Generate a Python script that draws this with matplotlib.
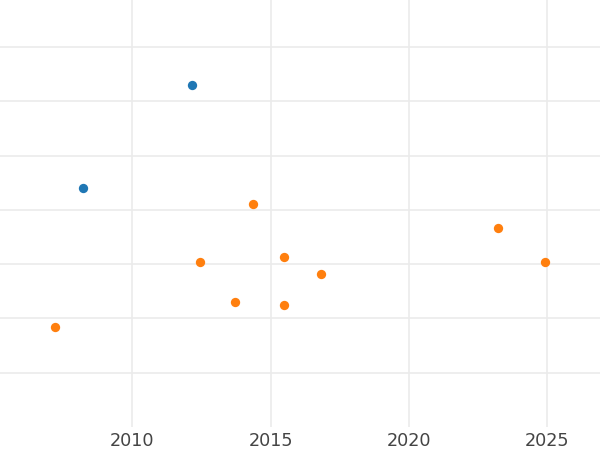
import matplotlib
matplotlib.use("Agg")
import matplotlib.pyplot as plt

# two groups of points, x = year, y = unlabelled value
blue_x = [2012.17, 2008.21]
blue_y = [6.30, 4.41]

orange_x = [2014.37, 2012.45, 2015.47, 2013.71, 2015.47, 2007.21, 2016.81, 2023.22, 2024.94]
orange_y = [4.11, 3.03, 3.135, 2.31, 2.24, 1.85, 2.82, 3.67, 3.04]

year_ticks = [2010, 2015, 2020, 2025]
y_grid = [1, 2, 3, 4, 5, 6, 7]

fig = plt.figure(figsize=(6, 4.5), dpi=100)
ax = fig.add_axes([0, 1 - 427 / 450, 1, 427 / 450])

ax.scatter(blue_x, blue_y, s=45, color="#1f77b4", linewidths=0, zorder=3)
ax.scatter(orange_x, orange_y, s=45, color="#ff7f0e", linewidths=0, zorder=3)

ax.set_xlim(2005.21, 2026.92)
ax.set_ylim(0.0, 7.865)
ax.set_xticks(year_ticks)
ax.set_yticks(y_grid)
ax.set_yticklabels([])
ax.grid(True, color="#ebebeb", linewidth=1.2)
ax.set_axisbelow(True)
ax.tick_params(axis="both", length=0, labelsize=12.7, labelcolor="#444444", pad=3.5)
for s in ax.spines.values():
    s.set_visible(False)

fig.savefig("out.png", dpi=100)
